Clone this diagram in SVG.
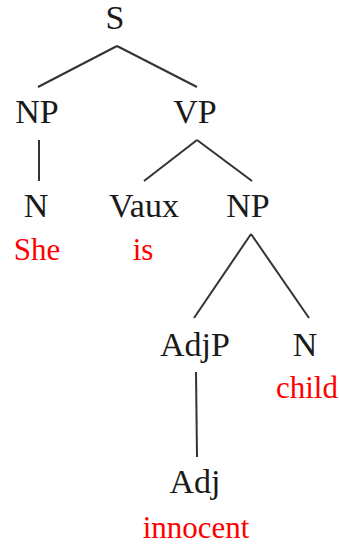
<svg xmlns="http://www.w3.org/2000/svg" width="339" height="546" viewBox="0 0 339 546">
<style>
.cat{font-family:"Liberation Serif","Times New Roman",serif;font-size:34px;fill:#1a1a1a;text-anchor:middle}
.word{font-family:"Liberation Serif","Times New Roman",serif;font-size:31px;fill:#ff0000;text-anchor:middle}
.edge{stroke:#333;stroke-width:2;fill:none}
</style>
<rect width="339" height="546" fill="#fff"/>
<g id="connectors">
<line class="edge" x1="117" y1="46" x2="38" y2="87"/>
<line class="edge" x1="117" y1="46" x2="197" y2="87"/>
<line class="edge" x1="39" y1="140" x2="39" y2="181"/>
<line class="edge" x1="197" y1="140" x2="144" y2="181"/>
<line class="edge" x1="197" y1="140" x2="252" y2="181"/>
<line class="edge" x1="251" y1="234" x2="194" y2="318"/>
<line class="edge" x1="251" y1="234" x2="309" y2="318"/>
<line class="edge" x1="196" y1="372" x2="197" y2="457"/>
</g>
<g id="node-S"><text class="cat" x="115" y="29">S</text></g>
<g id="node-NP1"><text class="cat" x="37" y="123">NP</text></g>
<g id="node-VP"><text class="cat" x="195" y="123">VP</text></g>
<g id="node-N1"><text class="cat" x="36" y="217">N</text><text class="word" x="37" y="260">She</text></g>
<g id="node-Vaux"><text class="cat" x="144" y="217">Vaux</text><text class="word" x="143" y="260">is</text></g>
<g id="node-NP2"><text class="cat" x="248" y="217">NP</text></g>
<g id="node-AdjP"><text class="cat" x="195" y="356">AdjP</text></g>
<g id="node-N2"><text class="cat" x="305" y="356">N</text><text class="word" x="307" y="398">child</text></g>
<g id="node-Adj"><text class="cat" x="195" y="493">Adj</text><text class="word" x="196" y="538">innocent</text></g>
</svg>
